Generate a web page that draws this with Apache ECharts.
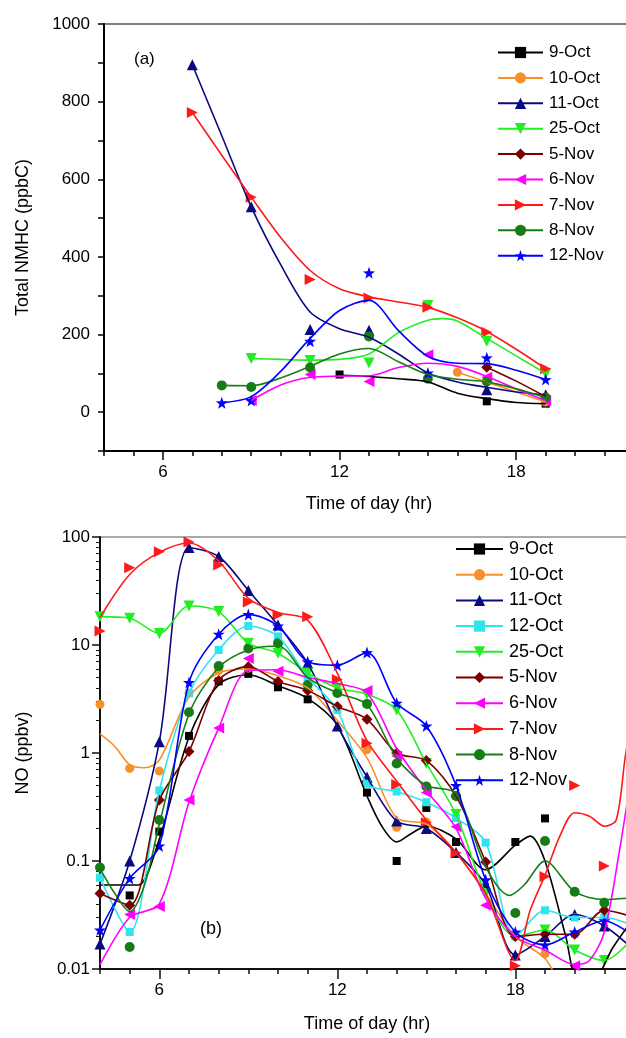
<!DOCTYPE html>
<html>
<head>
<meta charset="utf-8">
<script src="https://cdn.jsdelivr.net/npm/echarts@6/dist/echarts.min.js"></script>
<style>
  html, body { margin: 0; padding: 0; background: #fff; }
  #chart { width: 626px; height: 1038px; }
</style>
</head>
<body>
<div id="chart"></div>
<script>
// ---- data: [hour, value]; *_pts = measured markers, *_fit = smoothed curve read off the figure ----
// (a) Total NMHC (ppbC)
var nmhc_9Oct_pts  = [[12, 97], [17, 28], [19, 22]];
var nmhc_9Oct_fit  = [[12, 95], [13, 92], [14, 86], [15, 78], [16, 49], [17, 35], [18, 25], [19, 22]];
var nmhc_10Oct_pts = [[16, 103], [19, 26]];
var nmhc_10Oct_fit = [[16, 103], [17, 78], [18, 52], [19, 26]];
var nmhc_11Oct_pts = [[7, 895], [9, 529], [11, 213], [13, 211], [17, 58], [19, 45]];
var nmhc_11Oct_fit = [[7, 895], [8, 712], [9, 529], [10, 380], [11, 258], [12, 215], [13, 193], [14, 150], [15, 101], [16, 78], [17, 64], [18, 52], [19, 45]];
var nmhc_25Oct_pts = [[9, 138], [11, 133], [13, 127], [15, 275], [17, 183], [19, 99]];
var nmhc_25Oct_fit = [[9, 138], [10, 136], [11, 134], [12, 136], [13, 150], [14, 205], [15, 237], [15.5, 241], [16, 235], [17, 190], [18, 145], [19, 100]];
var nmhc_5Nov_pts  = [[17, 116], [19, 40]];
var nmhc_5Nov_fit  = [[17, 116], [18, 80], [19, 40]];
var nmhc_6Nov_pts  = [[9, 30], [11, 97], [13, 79], [15, 148], [17, 90], [19, 30]];
var nmhc_6Nov_fit  = [[9, 30], [10, 70], [11, 90], [12, 93], [13, 94], [14, 115], [15, 126], [16, 118], [17, 92], [18, 60], [19, 30]];
var nmhc_7Nov_pts  = [[7, 772], [9, 554], [11, 342], [13, 294], [15, 270], [17, 206], [19, 112]];
var nmhc_7Nov_fit  = [[7, 772], [8, 662], [9, 554], [10, 450], [11, 365], [12, 318], [13, 297], [14, 284], [15, 270], [16, 243], [17, 208], [18, 162], [19, 112]];
var nmhc_8Nov_pts  = [[8, 69], [9, 65], [11, 115], [13, 195], [15, 86], [17, 79], [19, 38]];
var nmhc_8Nov_fit  = [[8, 69], [9, 68], [10, 88], [11, 118], [12, 150], [13, 164], [14, 130], [15, 97], [16, 85], [17, 78], [18, 60], [19, 38]];
var nmhc_12Nov_pts = [[8, 24], [9, 30], [11, 183], [13, 359], [15, 101], [17, 140], [19, 84]];
var nmhc_12Nov_fit = [[8, 24], [9, 40], [10, 105], [11, 190], [12, 262], [13, 288], [14, 210], [15, 144], [16, 126], [17, 125], [18, 108], [19, 84]];

// (b) NO (ppbv)
var no_9Oct_pts  = [[5, 0.048], [6, 0.187], [7, 1.44], [8, 4.6], [9, 5.4], [10, 4.06], [11, 3.14], [13, 0.43], [14, 0.1], [15, 0.31], [16, 0.15], [18, 0.15], [19, 0.248]];
var no_9Oct_fit  = [[4, 0.06], [4.9, 0.06], [5.3, 0.06], [6, 0.16], [7, 1.4], [8, 4.3], [9, 5.3], [10, 4.2], [11, 3.2], [12, 1.8], [13, 0.4], [13.5, 0.21], [14, 0.15], [14.5, 0.18], [15, 0.21], [16, 0.16], [17, 0.083], [18, 0.14], [18.5, 0.17], [19, 0.1], [19.7, 0.02], [20.1, 0.008], [20.6, 0.008], [21.3, 0.016], [22, 0.03]];
var no_10Oct_pts = [[4, 2.82], [5, 0.72], [6, 0.68], [7, 3.6], [8, 5.8], [9, 6.1], [13, 1.07], [14, 0.205], [15, 0.23], [19, 0.0138]];
var no_10Oct_fit = [[4, 1.5], [4.5, 1.15], [5, 0.78], [5.5, 0.73], [6, 0.86], [7, 3.3], [8, 5.5], [9, 6], [10, 5.2], [11, 4], [12, 2], [13, 0.9], [14, 0.25], [15, 0.22], [16, 0.12], [17, 0.05], [18, 0.02], [19, 0.0125], [19.5, 0.007]];
var no_11Oct_pts = [[4, 0.017], [5, 0.1], [6, 1.27], [7, 80], [8, 66], [9, 32], [10, 15.3], [11, 6.8], [12, 1.78], [13, 0.6], [14, 0.234], [15, 0.2], [16, 0.12], [17, 0.06], [18, 0.0135], [19, 0.02], [20, 0.032], [21, 0.025], [22, 0.015]];
var no_12Oct_pts = [[4, 0.07], [5, 0.022], [6, 0.45], [7, 3.57], [8, 9], [9, 15], [10, 12], [11, 5], [12, 2.5], [13, 0.52], [14, 0.44], [15, 0.35], [16, 0.25], [17, 0.148], [18, 0.02], [19, 0.035], [20, 0.03], [21, 0.03], [22, 0.025]];
var no_25Oct_pts = [[4, 18.3], [5, 17.7], [6, 12.8], [7, 23], [8, 20.4], [9, 10.4], [10, 8.4], [11, 5.5], [12, 4], [13, 3.5], [14, 2.5], [15, 0.8], [16, 0.27], [17, 0.05], [18, 0.02], [19, 0.023], [20, 0.015], [21, 0.012], [22, 0.02]];
var no_5Nov_pts  = [[4, 0.05], [5, 0.039], [6, 0.367], [7, 1.03], [8, 4.7], [9, 6.3], [10, 4.6], [11, 3.8], [12, 2.7], [13, 2.05], [14, 1.0], [15, 0.85], [16, 0.4], [17, 0.098], [18, 0.02], [19, 0.021], [20, 0.021], [21, 0.035], [22, 0.03]];
var no_6Nov_pts  = [[5, 0.032], [6, 0.038], [7, 0.367], [8, 1.7], [9, 7.5], [10, 5.7], [13, 3.8], [14, 0.94], [15, 0.43], [16, 0.208], [17, 0.039], [20, 0.0107]];
var no_6Nov_fit  = [[4, 0.011], [5, 0.03], [6, 0.04], [7, 0.35], [8, 1.7], [9, 5.8], [10, 5.9], [11, 5], [12, 4.4], [13, 3.6], [14, 1.1], [15, 0.45], [16, 0.2], [17, 0.045], [18, 0.02], [19, 0.015], [20, 0.011], [20.5, 0.012], [21, 0.022], [21.5, 0.12], [22, 0.9]];
var no_7Nov_pts  = [[4, 13.5], [5, 52], [6, 73], [7, 90], [8, 55], [9, 25], [10, 19], [11, 18.3], [12, 4.8], [13, 1.23], [14, 0.51], [15, 0.226], [16, 0.119], [18, 0.0107], [19, 0.072], [20, 0.5], [21, 0.09]];
var no_7Nov_fit  = [[4, 18], [5, 45], [6, 72], [7, 88], [8, 60], [9, 27], [10, 20], [11, 17], [12, 5.5], [13, 1.3], [14, 0.55], [15, 0.24], [16, 0.12], [17, 0.05], [18, 0.012], [18.5, 0.035], [19, 0.074], [19.5, 0.17], [20, 0.28], [20.5, 0.26], [21, 0.21], [21.4, 0.24], [21.7, 0.9], [22, 3]];
var no_8Nov_pts  = [[4, 0.087], [5, 0.016], [6, 0.24], [7, 2.38], [8, 6.4], [9, 9.3], [10, 10.4], [11, 4.26], [12, 3.6], [13, 2.85], [14, 0.8], [15, 0.49], [16, 0.4], [18, 0.033], [19, 0.153], [20, 0.052], [21, 0.041]];
var no_8Nov_fit  = [[4, 0.085], [4.5, 0.05], [5, 0.034], [5.5, 0.06], [6, 0.22], [7, 2.3], [8, 6.2], [9, 9], [10, 9.8], [11, 5], [12, 3.6], [13, 2.8], [14, 0.9], [15, 0.5], [16, 0.42], [17, 0.088], [17.8, 0.048], [18.3, 0.06], [19, 0.1], [20, 0.052], [21, 0.044], [22, 0.046]];
var no_12Nov_pts = [[4, 0.023], [5, 0.069], [6, 0.138], [7, 4.5], [8, 12.6], [9, 19.2], [10, 15], [11, 7.0], [12, 6.5], [13, 8.5], [14, 2.9], [15, 1.78], [16, 0.5], [17, 0.067], [18, 0.022], [19, 0.0167], [20, 0.022], [21, 0.028], [22, 0.02]];

var namesA = ["9-Oct", "10-Oct", "11-Oct", "25-Oct", "5-Nov", "6-Nov", "7-Nov", "8-Nov", "12-Nov"];
var ptsA = [nmhc_9Oct_pts, nmhc_10Oct_pts, nmhc_11Oct_pts, nmhc_25Oct_pts, nmhc_5Nov_pts, nmhc_6Nov_pts, nmhc_7Nov_pts, nmhc_8Nov_pts, nmhc_12Nov_pts];
var fitA = [nmhc_9Oct_fit, nmhc_10Oct_fit, nmhc_11Oct_fit, nmhc_25Oct_fit, nmhc_5Nov_fit, nmhc_6Nov_fit, nmhc_7Nov_fit, nmhc_8Nov_fit, nmhc_12Nov_fit];
var namesB = ["9-Oct", "10-Oct", "11-Oct", "12-Oct", "25-Oct", "5-Nov", "6-Nov", "7-Nov", "8-Nov", "12-Nov"];
var ptsB = [no_9Oct_pts, no_10Oct_pts, no_11Oct_pts, no_12Oct_pts, no_25Oct_pts, no_5Nov_pts, no_6Nov_pts, no_7Nov_pts, no_8Nov_pts, no_12Nov_pts];
var fitB = [no_9Oct_fit, no_10Oct_fit, null, null, null, null, no_6Nov_fit, no_7Nov_fit, no_8Nov_fit, null];

var hourLabels = [6, 12, 18];
var noMinorTicks = [0.02, 0.03, 0.04, 0.05, 0.06, 0.07, 0.08, 0.09, 0.2, 0.3, 0.4, 0.5, 0.6, 0.7, 0.8, 0.9,
  2, 3, 4, 5, 6, 7, 8, 9, 20, 30, 40, 50, 60, 70, 80, 90];

(function() {
  var font = 'Arial, "Liberation Sans", sans-serif';
  var star = "path://M0,-10 L2.35,-3.24 L9.51,-3.09 L3.8,1.24 L5.88,8.09 L0,4 L-5.88,8.09 L-3.8,1.24 L-9.51,-3.09 L-2.35,-3.24 Z";
  // marker style per date
  var sty = {
    "9-Oct":  { color: "#000000", symbol: "rect", rot: 0, size: 8 },
    "10-Oct": { color: "#f7902a", symbol: "circle", rot: 0, size: 9 },
    "11-Oct": { color: "#0a0a80", symbol: "triangle", rot: 0, size: 11 },
    "12-Oct": { color: "#30e4ee", symbol: "rect", rot: 0, size: 8 },
    "25-Oct": { color: "#22ee22", symbol: "triangle", rot: 180, size: 11 },
    "5-Nov":  { color: "#7a0000", symbol: "diamond", rot: 0, size: 11 },
    "6-Nov":  { color: "#ff00ff", symbol: "triangle", rot: 90, size: 11 },
    "7-Nov":  { color: "#ff1a1a", symbol: "triangle", rot: -90, size: 11 },
    "8-Nov":  { color: "#167d16", symbol: "circle", rot: 0, size: 10 },
    "12-Nov": { color: "#0000ff", symbol: star, rot: 0, size: 12 }
  };

  // one smoothed line (curve) + one scatter (markers) per date
  function mk(name, pts, fit, xi, yi, out) {
    var s = sty[name];
    out.push({
      name: name, type: "line", xAxisIndex: xi, yAxisIndex: yi,
      data: fit || pts, smooth: 0.3, showSymbol: false,
      symbol: s.symbol, symbolRotate: s.rot, symbolSize: s.size,
      itemStyle: { color: s.color },
      lineStyle: { color: s.color, width: 1.6 },
      emphasis: { disabled: true }, animation: false
    });
    out.push({
      name: name, type: "scatter", xAxisIndex: xi, yAxisIndex: yi,
      data: pts, symbol: s.symbol, symbolRotate: s.rot, symbolSize: s.size,
      itemStyle: { color: s.color, opacity: 1 },
      emphasis: { disabled: true }, animation: false
    });
  }

  var series = [];
  for (var i = 0; i < namesA.length; i++) mk(namesA[i], ptsA[i], fitA[i], 0, 0, series);
  for (var j = 0; j < namesB.length; j++) mk(namesB[j], ptsB[j], fitB[j], 2, 1, series);

  var myChart = echarts.init(document.getElementById("chart"));

  var lbl = { color: "#000", fontSize: 17, fontFamily: font };
  var hourFmt = function(v) { return hourLabels.indexOf(v) >= 0 ? v : ""; };

  var option = {
    backgroundColor: "#fff",
    animation: false,
    textStyle: { fontFamily: font },
    grid: [
      { left: 104, right: -8, top: 24, bottom: 587, outerBoundsMode: "none", containLabel: false,
        show: true, borderColor: "#000", borderWidth: 1, backgroundColor: "transparent" },
      { left: 100, right: -8, top: 537, bottom: 69, outerBoundsMode: "none", containLabel: false,
        show: true, borderColor: "#555", borderWidth: 1, backgroundColor: "transparent" }
    ],
    legend: [
      {
        data: namesA, orient: "vertical", left: 497, top: 44, padding: 0,
        itemWidth: 45, itemHeight: 14, itemGap: 8.4,
        textStyle: { color: "#000", fontSize: 17, fontFamily: font, padding: [0, 0, 0, 1] },
        selectedMode: false
      },
      {
        data: namesB, orient: "vertical", left: 455, top: 540, padding: 0,
        itemWidth: 47, itemHeight: 14, itemGap: 7.7,
        textStyle: { color: "#000", fontSize: 18, fontFamily: font, padding: [0, 0, 0, 1] },
        selectedMode: false
      }
    ],
    xAxis: [
      { // (a) hour ticks + labels
        gridIndex: 0, type: "value", min: 4, max: 22, interval: 1,
        name: "Time of day (hr)", nameLocation: "middle", nameGap: 44,
        nameTextStyle: { color: "#000", fontSize: 18, fontFamily: font },
        axisLine: { onZero: false, lineStyle: { color: "#000", width: 2 } },
        axisTick: { length: 5, lineStyle: { color: "#000", width: 1.5 } },
        axisLabel: Object.assign({ margin: 13, formatter: hourFmt }, lbl),
        splitLine: { show: false }
      },
      { // (a) long ticks at labelled hours
        gridIndex: 0, type: "value", min: 4, max: 22, position: "bottom",
        axisLine: { show: false, onZero: false },
        axisTick: { customValues: hourLabels, length: 9, lineStyle: { color: "#000", width: 1.5 } },
        axisLabel: { show: false },
        splitLine: { show: false }
      },
      { // (b)
        gridIndex: 1, type: "value", min: 4, max: 22, interval: 1,
        name: "Time of day (hr)", nameLocation: "middle", nameGap: 46,
        nameTextStyle: { color: "#000", fontSize: 18, fontFamily: font },
        axisLine: { onZero: false, lineStyle: { color: "#111", width: 2 } },
        axisTick: { length: 5, lineStyle: { color: "#111", width: 1.5 } },
        axisLabel: Object.assign({ margin: 13, formatter: hourFmt }, lbl),
        splitLine: { show: false }
      },
      {
        gridIndex: 1, type: "value", min: 4, max: 22, position: "bottom",
        axisLine: { show: false, onZero: false },
        axisTick: { customValues: hourLabels, length: 10, lineStyle: { color: "#111", width: 1.5 } },
        axisLabel: { show: false },
        splitLine: { show: false }
      }
    ],
    yAxis: [
      { // (a)
        gridIndex: 0, type: "value", min: -100, max: 1000, interval: 100,
        name: "Total NMHC (ppbC)", nameLocation: "middle", nameGap: 72,
        nameTextStyle: { color: "#000", fontSize: 18, fontFamily: font },
        axisLine: { onZero: false, lineStyle: { color: "#000", width: 2 } },
        axisTick: { length: 6, lineStyle: { color: "#000", width: 1.5 } },
        axisLabel: Object.assign({ margin: 14, formatter: function(v) { return (v >= 0 && v % 200 === 0) ? v : ""; } }, lbl),
        splitLine: { show: false }
      },
      { // (b) log
        gridIndex: 1, type: "log", logBase: 10, min: 0.01, max: 100,
        name: "NO (ppbv)", nameLocation: "middle", nameGap: 68,
        nameTextStyle: { color: "#000", fontSize: 18, fontFamily: font },
        axisLine: { onZero: false, lineStyle: { color: "#111", width: 2 } },
        axisTick: { length: 8, lineStyle: { color: "#111", width: 1.5 } },
        axisLabel: Object.assign({ margin: 10 }, lbl),
        splitLine: { show: false }
      },
      { // (b) minor log ticks
        gridIndex: 1, type: "log", logBase: 10, min: 0.01, max: 100, position: "left",
        axisLine: { show: false, onZero: false },
        axisTick: { customValues: noMinorTicks, length: 4, lineStyle: { color: "#111", width: 1 } },
        axisLabel: { show: false },
        splitLine: { show: false }
      }
    ],
    graphic: [
      { type: "text", left: 134, top: 51, style: { text: "(a)", fontSize: 17, fontFamily: font, fill: "#000" } },
      { type: "text", left: 200, top: 920, style: { text: "(b)", fontSize: 18, fontFamily: font, fill: "#000" } }
    ],
    series: series
  };

  myChart.setOption(option);
})();
</script>
</body>
</html>
